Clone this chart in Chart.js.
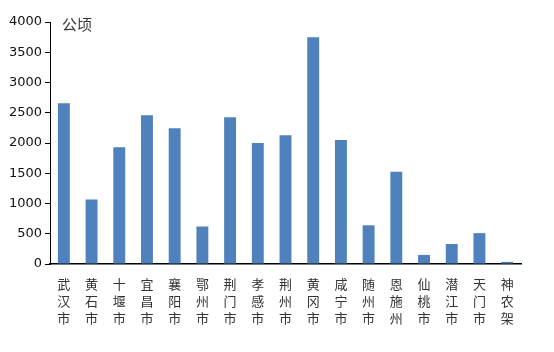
<!DOCTYPE html>
<html>
<head>
<meta charset="utf-8">
<script src="https://cdn.jsdelivr.net/npm/chart.js@4/dist/chart.umd.min.js"></script>
<style>
  html, body { margin: 0; padding: 0; background: #fff; }
  #wrap { width: 554px; height: 352px; }
</style>
</head>
<body>
<div id="wrap"><canvas id="area"></canvas></div>
<script>
const cities = ['武汉市', '黄石市', '十堰市', '宜昌市', '襄阳市', '鄂州市', '荆门市', '孝感市', '荆州市',
                '黄冈市', '咸宁市', '随州市', '恩施州', '仙桃市', '潜江市', '天门市', '神农架']
const areaValues = [2655, 1065, 1930, 2460, 2245, 620, 2425, 2000, 2130,
                    3750, 2050, 640, 1525, 150, 330, 510, 35]
const unitLabel = '公顷'

// each character on its own line
const stacked = cities.map(c => c.split(''))

const unitPlugin = {
    id: 'unit',
    afterDraw(chart) {
        const ctx = chart.ctx
        const a = chart.chartArea
        ctx.save()
        ctx.fillStyle = '#333'
        ctx.font = '15px "Noto Sans CJK SC"'
        ctx.textBaseline = 'middle'
        ctx.fillText(unitLabel, a.left + 12, a.top + 2)
        ctx.restore()
    }
}

new Chart(document.getElementById('area'), {
    type: 'bar',
    data: {
        labels: stacked,
        datasets: [{
            data: areaValues,
            backgroundColor: '#4F81BD',
            categoryPercentage: 1,
            barPercentage: 0.43
        }]
    },
    options: {
        responsive: true,
        maintainAspectRatio: false,
        animation: false,
        layout: { padding: { top: 22, right: 33, bottom: 0, left: 0 } },
        plugins: { legend: { display: false }, tooltip: { enabled: false } },
        scales: {
            x: {
                grid: { display: false },
                border: { display: true, color: '#000', width: 1.5 },
                ticks: {
                    color: '#333',
                    font: { family: '"Noto Sans CJK SC"', size: 13, lineHeight: 1.3 },
                    padding: 4,
                    maxRotation: 0,
                    autoSkip: false
                },
                afterFit(s) { s.height = 88 }
            },
            y: {
                min: 0,
                max: 4000,
                grid: { drawOnChartArea: false, color: '#000', tickLength: 5 },
                border: { display: true, color: '#000', width: 1 },
                ticks: {
                    stepSize: 500,
                    color: '#111',
                    font: { family: 'DejaVu Sans', size: 13 },
                    padding: 3,
                    callback: v => String(v)
                },
                afterFit(s) { s.width = 50 }
            }
        }
    },
    plugins: [unitPlugin]
})
</script>
</body>
</html>
